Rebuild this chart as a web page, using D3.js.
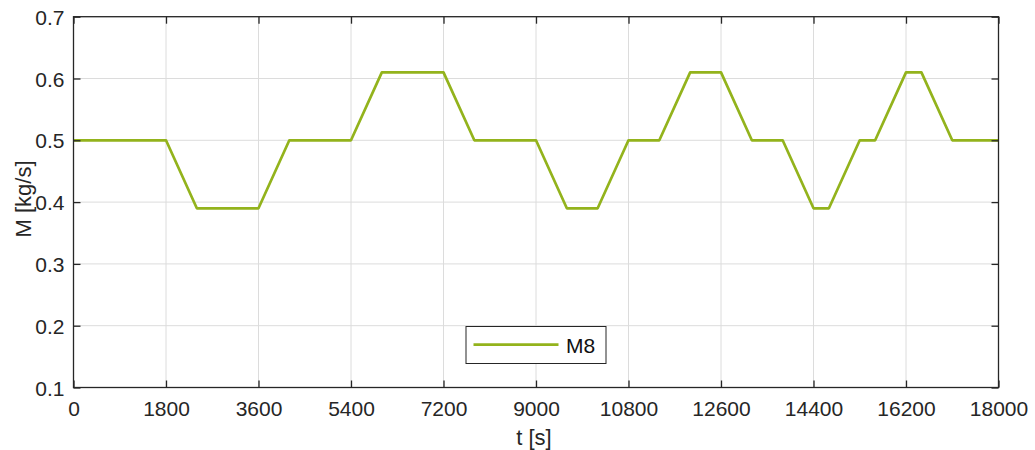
<!DOCTYPE html>
<html><head><meta charset="utf-8">
<script src="https://cdn.jsdelivr.net/npm/d3@7"></script>
<style>body{margin:0;background:#fff}svg{display:block}</style>
</head><body>
<script>
const times = [0,1800,2400,3600,4200,5400,6000,7200,7800,9000,9600,10200,10800,11400,12000,12600,13200,13800,14400,14700,15300,15600,16200,16500,17100,18000];
const values = [0.5,0.5,0.39,0.39,0.5,0.5,0.61,0.61,0.5,0.5,0.39,0.39,0.5,0.5,0.61,0.61,0.5,0.5,0.39,0.39,0.5,0.5,0.61,0.61,0.5,0.5];
const xTicks = [0,1800,3600,5400,7200,9000,10800,12600,14400,16200,18000];
const yTicks = [0.1,0.2,0.3,0.4,0.5,0.6,0.7];
const seriesName = "M8";

const W=1035,H=450;
const L=73.5,R=998.5,T=16.7,B=387.5;
const svg=d3.select("body").append("svg").attr("width",W).attr("height",H);
const x=d3.scaleLinear().domain([0,18000]).range([L,R]);
const y=d3.scaleLinear().domain([0.1,0.7]).range([B,T]);
const font="Liberation Sans, Arial, sans-serif";
const tc="#262626";
const fs="21px";

// grid
svg.append("g").selectAll("line").data(xTicks).join("line")
 .attr("x1",d=>x(d)).attr("x2",d=>x(d)).attr("y1",T).attr("y2",B)
 .attr("stroke","#dcdcdc").attr("stroke-width",1);
svg.append("g").selectAll("line").data(yTicks).join("line")
 .attr("y1",d=>y(d)).attr("y2",d=>y(d)).attr("x1",L).attr("x2",R)
 .attr("stroke","#dcdcdc").attr("stroke-width",1);

// line
svg.append("path").datum(times.map((t,i)=>[t,values[i]]))
 .attr("d",d3.line().x(d=>x(d[0])).y(d=>y(d[1])))
 .attr("fill","none").attr("stroke","#93b31c").attr("stroke-width",2.7)
 .attr("stroke-linejoin","round");

// axes
const tl=7;
const axB=svg.append("g").attr("transform",`translate(0,${B})`)
 .call(d3.axisBottom(x).tickValues(xTicks).tickSize(-tl).tickFormat(d3.format("d")));
const axT=svg.append("g").attr("transform",`translate(0,${T})`)
 .call(d3.axisTop(x).tickValues(xTicks).tickSize(-tl).tickFormat(""));
const axL=svg.append("g").attr("transform",`translate(${L},0)`)
 .call(d3.axisLeft(y).tickValues(yTicks).tickSize(-tl).tickFormat(d3.format(".1f")));
const axR=svg.append("g").attr("transform",`translate(${R},0)`)
 .call(d3.axisRight(y).tickValues(yTicks).tickSize(-tl).tickFormat(""));
[axB,axT,axL,axR].forEach(a=>{
  a.select(".domain").remove();
  a.selectAll(".tick line").attr("stroke",tc).attr("stroke-width",1.3);
  a.selectAll("text").attr("fill",tc).style("font-family",font).style("font-size",fs);
});
axB.selectAll("text").attr("y",28.5).attr("dy",0);
axL.selectAll("text").attr("x",-9).attr("dy","0.36em");
svg.append("rect").attr("x",L).attr("y",T).attr("width",R-L).attr("height",B-T)
 .attr("fill","none").attr("stroke",tc).attr("stroke-width",1.3);

// labels
svg.append("text").attr("x",(L+R)/2-2).attr("y",445).attr("text-anchor","middle")
 .attr("fill",tc).style("font-family",font).style("font-size","22px").text("t [s]");
svg.append("text").attr("transform",`translate(30.5,199) rotate(-90)`).attr("text-anchor","middle")
 .attr("fill",tc).style("font-family",font).style("font-size","22px").text("M [kg/s]");

// legend
const lg=svg.append("g");
lg.append("rect").attr("x",466).attr("y",326.5).attr("width",140).attr("height",37)
 .attr("fill","#fff").attr("stroke",tc).attr("stroke-width",1);
lg.append("line").attr("x1",473.5).attr("x2",558.5).attr("y1",344.7).attr("y2",344.7)
 .attr("stroke","#93b31c").attr("stroke-width",2.7);
lg.append("text").attr("x",566).attr("y",352.5).attr("fill","#111")
 .style("font-family",font).style("font-size",fs).text(seriesName);
</script>
</body></html>
